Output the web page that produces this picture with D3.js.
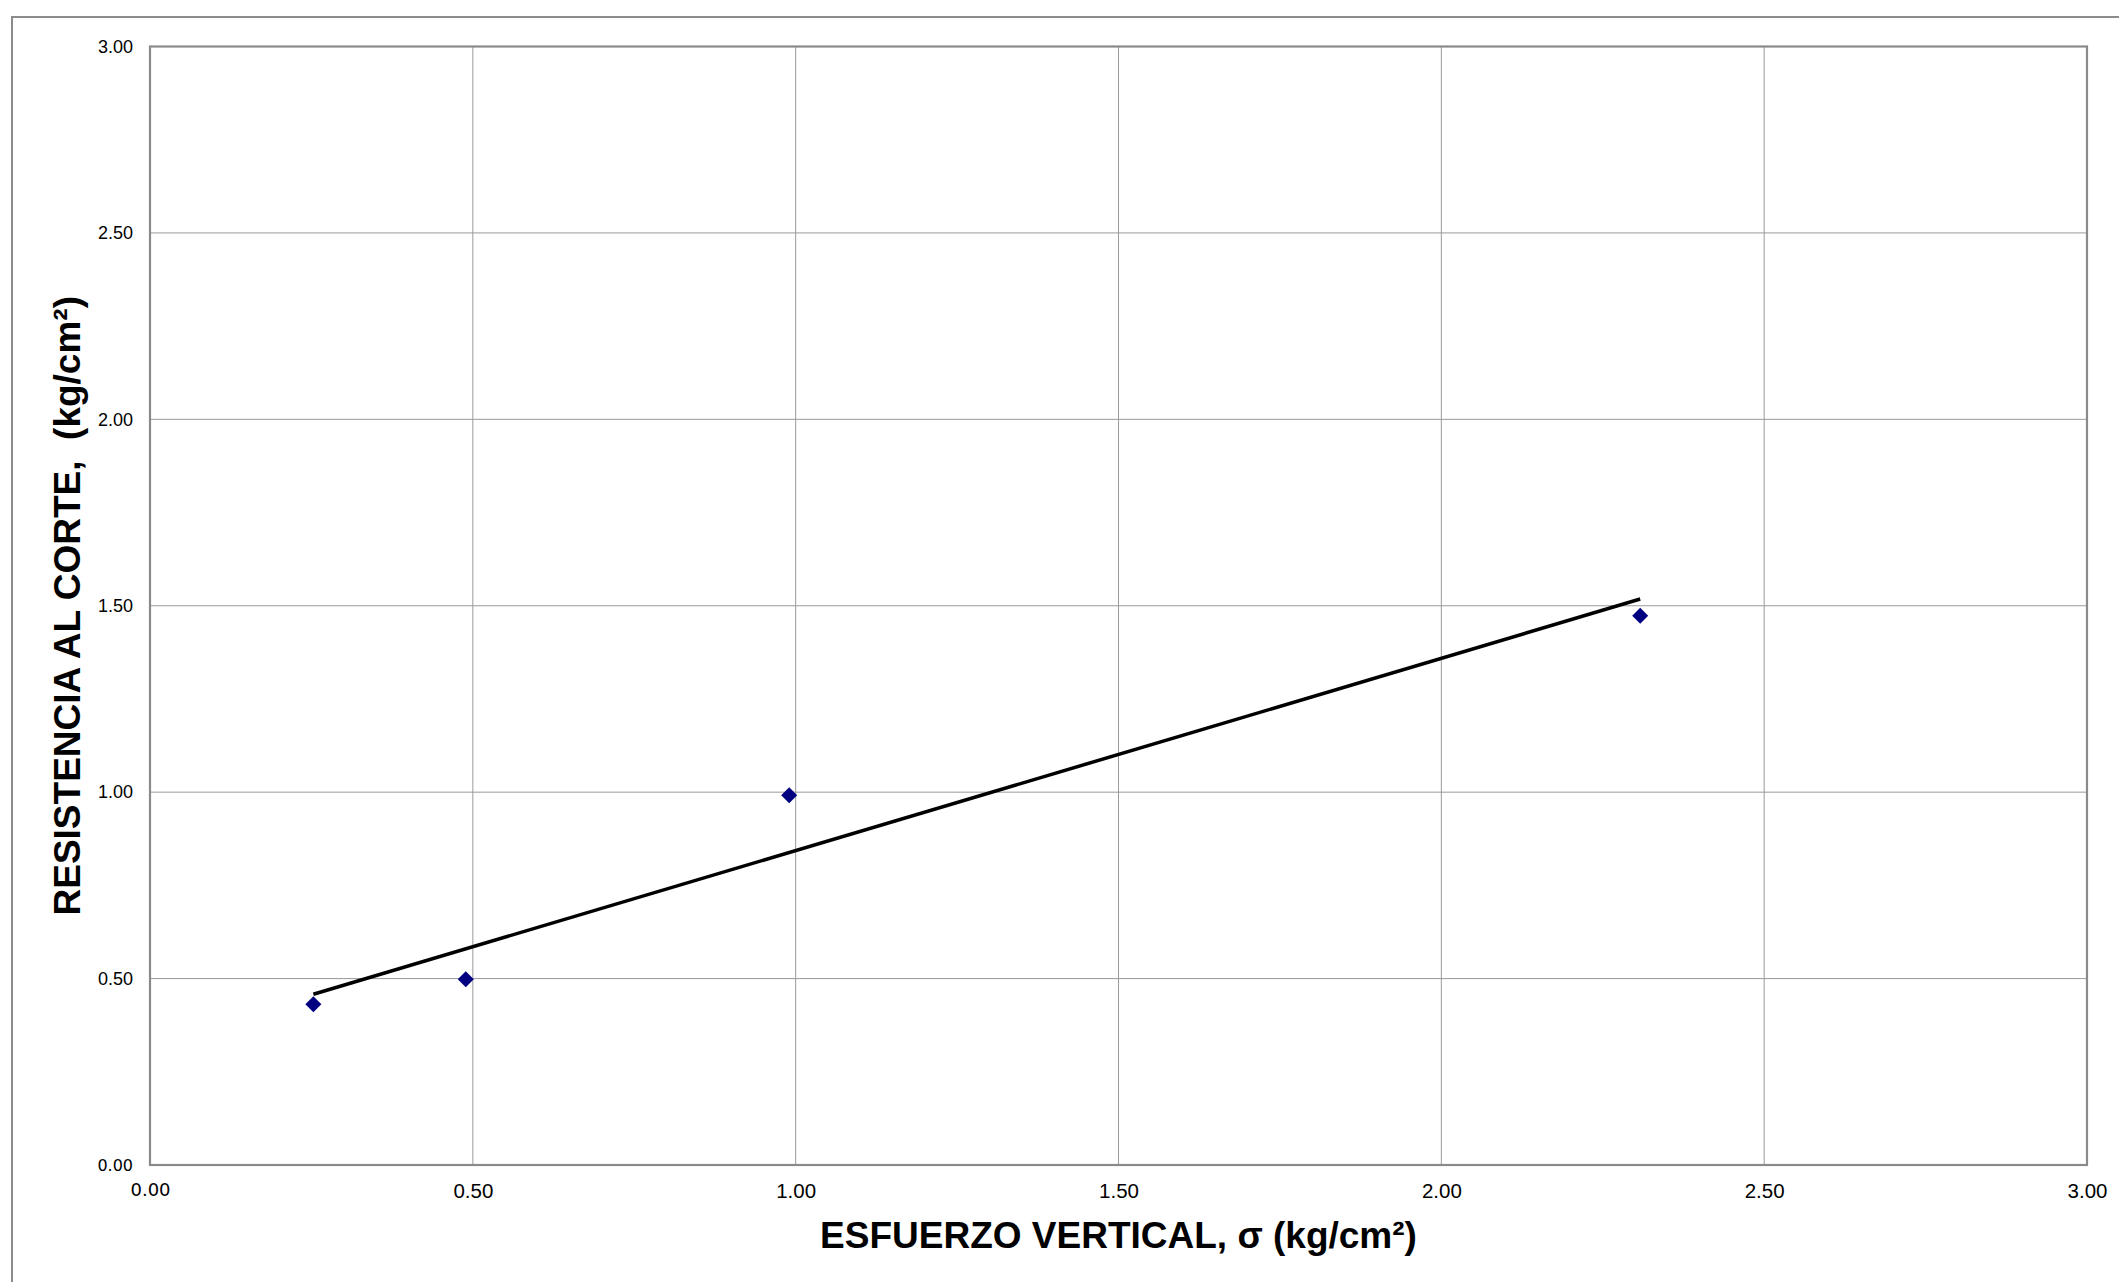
<!DOCTYPE html>
<html>
<head>
<meta charset="utf-8">
<script src="https://cdn.jsdelivr.net/npm/d3@7"></script>
<style>
  html, body { margin: 0; padding: 0; background: #fff; }
  svg { display: block; }
</style>
</head>
<body>
<svg id="chart" width="2119" height="1282"></svg>
<script>
// ---- data ----
const sigma = [0.253, 0.489, 0.990, 2.308];      // ESFUERZO VERTICAL (kg/cm2)
const tau = [0.431, 0.498, 0.992, 1.473];        // RESISTENCIA AL CORTE (kg/cm2)
const trendX = [0.253, 2.308];
const trendY = [0.458, 1.518];
const xTicks = [0, 0.5, 1.0, 1.5, 2.0, 2.5, 3.0];
const yTicks = [0, 0.5, 1.0, 1.5, 2.0, 2.5, 3.0];
const xTitle = "ESFUERZO VERTICAL, σ (kg/cm²)";
const yTitle = "RESISTENCIA AL CORTE,  (kg/cm²)";

// ---- layout ----
const svg = d3.select("#chart");
const L = 150, R = 2087, T = 46.5, B = 1165;
const x = d3.scaleLinear().domain([0, 3]).range([L, R]);
const y = d3.scaleLinear().domain([0, 3]).range([B, T]);
const fmt = d3.format(".2f");

// outer frame
svg.append("path")
  .attr("d", `M12,1290 L12,17 L2130,17`)
  .attr("fill", "none").attr("stroke", "#8c8c8c").attr("stroke-width", 2);

// gridlines
const grid = svg.append("g");
grid.selectAll("line.vx").data(xTicks.slice(1, -1)).join("line")
  .attr("x1", d => x(d)).attr("x2", d => x(d))
  .attr("y1", T).attr("y2", B)
  .attr("stroke", "#9a9a9a").attr("stroke-width", 1);
grid.selectAll("line.hy").data(yTicks.slice(1, -1)).join("line")
  .attr("x1", L).attr("x2", R)
  .attr("y1", d => y(d)).attr("y2", d => y(d))
  .attr("stroke", "#9a9a9a").attr("stroke-width", 1);

// plot border
svg.append("rect")
  .attr("x", L).attr("y", T).attr("width", R - L).attr("height", B - T)
  .attr("fill", "none").attr("stroke", "#8a8a8a").attr("stroke-width", 2.2);

// axes via d3 axis (labels only)
const xAxis = svg.append("g").attr("transform", `translate(0,${B})`)
  .call(d3.axisBottom(x).tickValues(xTicks).tickFormat(fmt).tickSize(0).tickPadding(18));
xAxis.select(".domain").remove();
xAxis.selectAll("text")
  .attr("fill", "#000")
  .style("font-family", d => d === 0 ? "'DejaVu Sans'" : "'Liberation Sans', Arial, sans-serif")
  .style("font-size", d => d === 0 ? "18px" : "20.5px");

const yAxis = svg.append("g").attr("transform", `translate(${L},0)`)
  .call(d3.axisLeft(y).tickValues(yTicks).tickFormat(fmt).tickSize(0).tickPadding(17));
yAxis.select(".domain").remove();
yAxis.selectAll("text")
  .attr("fill", "#000")
  .style("font-family", d => d === 0 ? "'DejaVu Sans'" : "'Liberation Sans', Arial, sans-serif")
  .style("font-size", d => d === 0 ? "16px" : "18px");

// trend line
svg.append("line")
  .attr("x1", x(trendX[0])).attr("y1", y(trendY[0]))
  .attr("x2", x(trendX[1])).attr("y2", y(trendY[1]))
  .attr("stroke", "#000").attr("stroke-width", 3.5);

// markers
svg.append("g").selectAll("path").data(sigma.map((s, i) => [s, tau[i]])).join("path")
  .attr("d", d3.symbol().type(d3.symbolSquare).size(128))
  .attr("transform", d => `translate(${x(d[0])},${y(d[1])}) rotate(45)`)
  .attr("fill", "#000080");

// titles
svg.append("text")
  .attr("x", (L + R) / 2).attr("y", 1248)
  .attr("text-anchor", "middle")
  .style("font-family", "'Liberation Sans', Arial, sans-serif")
  .style("font-weight", "bold").style("font-size", "37px")
  .text(xTitle);

svg.append("text")
  .attr("transform", `translate(80,${(T + B) / 2}) rotate(-90)`)
  .attr("text-anchor", "middle")
  .style("font-family", "'Liberation Sans', Arial, sans-serif")
  .style("font-weight", "bold").style("font-size", "37px")
  .style("white-space", "pre")
  .text(yTitle);
</script>
</body>
</html>
